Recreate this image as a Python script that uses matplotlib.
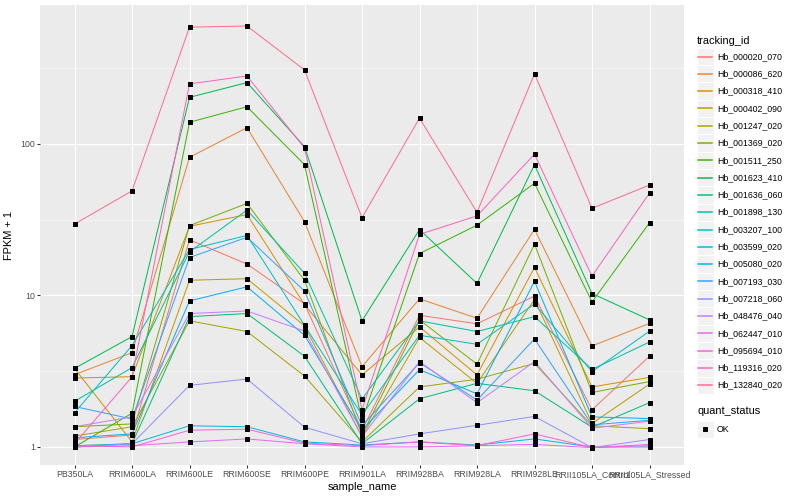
import numpy as np
import matplotlib.pyplot as plt
from matplotlib.patches import Rectangle
from matplotlib.lines import Line2D
from matplotlib.ticker import FixedLocator, FixedFormatter, NullFormatter

plt.rcParams['font.family'] = ['Liberation Sans', 'DejaVu Sans']

samples = ['PB350LA', 'RRIM600LA', 'RRIM600LE', 'RRIM600SE', 'RRIM600PE', 'RRIM901LA',
           'RRIM928BA', 'RRIM928LA', 'RRIM928LE', 'RRII105LA_Control', 'RRII105LA_Stressed']

# FPKM + 1 per gene, one value per sample
hb_000020_070 = [1.12, 1.2, 23.3, 16.1, 8.8, 1.29, 7.4, 6.5, 9.9, 1.76, 3.97]
hb_000086_620 = [3.0, 4.19, 81.7, 128, 30.7, 3.39, 9.5, 7.07, 27.3, 4.64, 6.54]
hb_000318_410 = [2.85, 2.91, 28.6, 34.2, 8.7, 2.99, 6.2, 2.99, 15.3, 2.49, 2.88]
hb_000402_090 = [3.3, 1.08, 12.6, 12.9, 6.3, 1.17, 5.28, 2.63, 9.4, 1.43, 2.6]
hb_001247_020 = [1.18, 1.36, 6.8, 5.78, 2.94, 1.08, 2.49, 2.8, 3.56, 1.38, 1.32]
hb_001369_020 = [1.36, 1.42, 28.9, 40.5, 12.6, 1.2, 6.9, 3.52, 21.8, 2.29, 2.7]
hb_001511_250 = [1.0, 1.67, 139, 176, 73, 1.5, 18.9, 29.1, 55, 9.06, 30.2]
hb_001623_410 = [3.3, 5.35, 203, 254, 96, 6.8, 27.2, 12.0, 72.9, 10.3, 6.9]
hb_001636_060 = [1.02, 1.05, 7.25, 7.6, 3.97, 1.05, 2.08, 2.63, 2.35, 1.35, 1.96]
hb_001898_130 = [2.0, 3.34, 19.4, 36.6, 14.0, 2.07, 6.8, 5.78, 7.25, 3.25, 4.93]
hb_003207_100 = [1.68, 4.67, 20.1, 24.9, 6.35, 1.63, 5.46, 4.76, 8.8, 3.14, 5.81]
hb_003599_020 = [1.0, 1.05, 1.38, 1.36, 1.08, 1.03, 1.08, 1.03, 1.13, 1.0, 1.0]
hb_005080_020 = [1.15, 1.22, 9.2, 11.4, 5.46, 1.29, 3.24, 2.24, 12.4, 1.58, 1.54]
hb_007193_030 = [1.85, 1.53, 17.8, 24.2, 10.7, 1.38, 3.6, 2.04, 5.16, 1.40, 1.5]
hb_007218_060 = [1.0, 1.05, 2.55, 2.81, 1.35, 1.05, 1.22, 1.39, 1.59, 0.99, 1.12]
hb_048476_040 = [1.36, 1.58, 7.6, 7.9, 5.82, 1.17, 3.66, 1.96, 3.66, 1.33, 1.48]
hb_062447_010 = [1.0, 1.02, 1.08, 1.13, 1.05, 1.0, 1.0, 1.02, 1.04, 0.99, 1.04]
hb_095694_010 = [1.02, 1.0, 1.29, 1.31, 1.06, 1.02, 1.08, 1.02, 1.22, 0.99, 1.02]
hb_119316_020 = [1.05, 2.9, 249, 281, 94, 1.76, 25.3, 33.5, 85.6, 13.4, 47.5]
hb_132840_020 = [29.6, 49, 590, 600, 308, 32.6, 148, 35.4, 290, 37.6, 53.5]

genes = ['Hb_000020_070', 'Hb_000086_620', 'Hb_000318_410', 'Hb_000402_090', 'Hb_001247_020',
         'Hb_001369_020', 'Hb_001511_250', 'Hb_001623_410', 'Hb_001636_060', 'Hb_001898_130',
         'Hb_003207_100', 'Hb_003599_020', 'Hb_005080_020', 'Hb_007193_030', 'Hb_007218_060',
         'Hb_048476_040', 'Hb_062447_010', 'Hb_095694_010', 'Hb_119316_020', 'Hb_132840_020']
values = [hb_000020_070, hb_000086_620, hb_000318_410, hb_000402_090, hb_001247_020,
          hb_001369_020, hb_001511_250, hb_001623_410, hb_001636_060, hb_001898_130,
          hb_003207_100, hb_003599_020, hb_005080_020, hb_007193_030, hb_007218_060,
          hb_048476_040, hb_062447_010, hb_095694_010, hb_119316_020, hb_132840_020]

# ggplot hue palette, 20 levels
colors = ['#F8766D', '#EA8331', '#D89000', '#C09B00', '#A3A500', '#7CAE00', '#39B600',
          '#00BB4E', '#00BF7D', '#00C1A3', '#00BFC4', '#00BAE0', '#00B0F6', '#35A2FF',
          '#9590FF', '#C77CFF', '#E76BF3', '#FA62DB', '#FF62BC', '#FF6C91']

W, H = 800, 500
fig = plt.figure(figsize=(W / 72, H / 72), dpi=72)
ax = fig.add_axes([40 / W, 35 / H, 644 / W, 460 / H])
ax.set_facecolor('#EBEBEB')

x = np.arange(len(samples))
for vals, col in zip(values, colors):
    ax.plot(x, vals, color=col, lw=1.0, zorder=3)
for vals in values:
    ax.plot(x, vals, ls='none', marker='s', ms=3.2, color='black', zorder=4)

ax.set_yscale('log')
ax.set_ylim(10 ** -0.119, 10 ** 2.917)
ax.set_xlim(-0.6, len(samples) - 0.4)

ax.yaxis.set_major_locator(FixedLocator([1, 10, 100]))
ax.yaxis.set_major_formatter(FixedFormatter(['1', '10', '100']))
ax.yaxis.set_minor_locator(FixedLocator([10 ** 0.5, 10 ** 1.5, 10 ** 2.5]))
ax.yaxis.set_minor_formatter(NullFormatter())
ax.set_xticks(x)
ax.set_xticklabels(samples)

ax.grid(which='major', color='white', lw=1.07, zorder=0)
ax.grid(which='minor', axis='y', color='white', lw=0.53, zorder=0)
ax.set_axisbelow(True)
for s in ax.spines.values():
    s.set_visible(False)
ax.tick_params(which='major', length=2.75, width=1.07, color='#333333',
               labelcolor='#4D4D4D', labelsize=8.8, pad=2.2)
ax.tick_params(which='minor', length=0)

ax.set_xlabel('sample_name', fontsize=11, labelpad=3)
ax.set_ylabel('FPKM + 1', fontsize=11, labelpad=6)

# legend, ggplot style
def fx(px):
    return px / W

def fy(py):
    return 1 - py / H

fig.text(fx(697), fy(40.5), 'tracking_id', fontsize=11, va='center', ha='left')
for i, (g, col) in enumerate(zip(genes, colors)):
    yc = 56.5 + 17.3 * i
    fig.add_artist(Rectangle((fx(696.5), fy(yc + 8.65)), 17.3 / W, 17.3 / H,
                             transform=fig.transFigure, facecolor='#F2F2F2',
                             edgecolor='white', lw=1, zorder=1))
    fig.add_artist(Line2D([fx(698.2), fx(712.1)], [fy(yc), fy(yc)],
                          transform=fig.transFigure, color=col, lw=1.5, zorder=2))
    fig.text(fx(717), fy(yc), g, fontsize=8.8, va='center', ha='left')

fig.text(fx(697), fy(411.5), 'quant_status', fontsize=11, va='center', ha='left')
fig.add_artist(Rectangle((fx(696.5), fy(429.3 + 8.65)), 17.3 / W, 17.3 / H,
                         transform=fig.transFigure, facecolor='#F2F2F2',
                         edgecolor='white', lw=1, zorder=1))
fig.add_artist(Line2D([fx(705.2)], [fy(429.3)], transform=fig.transFigure,
                      marker='s', ms=3.2, color='black', ls='none', zorder=2))
fig.text(fx(717), fy(429.3), 'OK', fontsize=8.8, va='center', ha='left')

fig.savefig('out.png', dpi=72, facecolor='white')
